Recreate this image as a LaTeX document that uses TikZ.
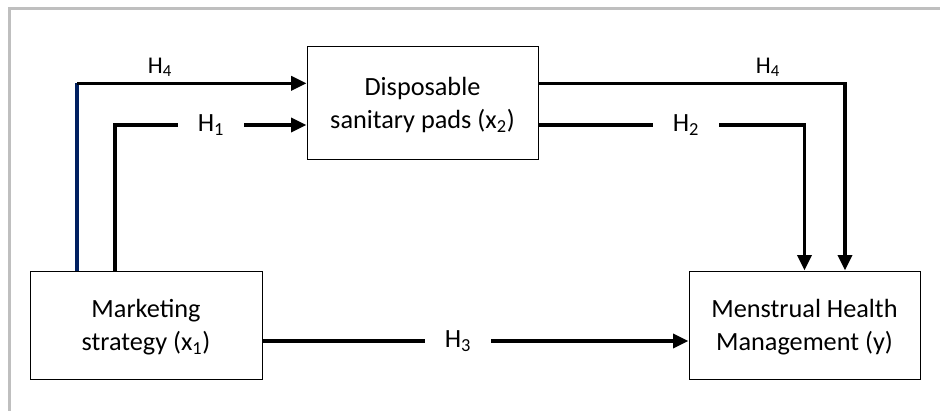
\documentclass[tikz,border=0pt]{standalone}
\usepackage{fontspec}
\setmainfont{Carlito}
\usetikzlibrary{arrows.meta}
\definecolor{frame}{RGB}{191,191,191}
\definecolor{navy}{RGB}{0,32,96}
\tikzset{
  box/.style={draw, line width=0.75pt, align=center, text depth=-2pt, minimum width=231pt*0.75, font=\fontsize{19.7}{24.8}\selectfont},
  line/.style={line width=2.5pt},
  arr/.style={line width=2.5pt, -{Triangle[length=11.5pt,width=10.5pt]}},
  hyp/.style={inner xsep=15pt, inner ysep=0pt, font=\fontsize{19.7}{24}\selectfont},
  hypsmall/.style={inner sep=0pt, anchor=base, font=\fontsize{18}{22}\selectfont}
}

\begin{document}
\begin{tikzpicture}[x=0.75pt,y=-0.75pt]
\useasboundingbox (0,0) rectangle (940,411);
%draw frame:
\draw [frame, line width=2.6pt] (9.3,411) -- (9.3,8.7) -- (940,8.7);
%draw boxes:
\node [box, minimum height=113*0.75pt] (dsp) at (422.5,102.5) {Disposable\\sanitary pads (x\textsubscript{2})};
\node [box, minimum height=108*0.75pt, minimum width=232*0.75pt] (mkt) at (146,325) {Marketing\\strategy (x\textsubscript{1})};
\node [box, minimum height=108*0.75pt] (mhm) at (804.5,325) {Menstrual Health\\Management (y)};
%draw labels:
\node [hyp] (h1) at (211,125) {H\textsubscript{1}};
\node [hyp] (h2) at (686,125) {H\textsubscript{2}};
\node [hyp] (h3) at (458,341) {H\textsubscript{3}};
\node [hypsmall] (h4a) at (160,73.5) {H\textsubscript{4}};
\node [hypsmall] (h4b) at (768,73.5) {H\textsubscript{4}};
\coordinate (c4) at (77,83.3);
\coordinate (c1) at (115,125);
\coordinate (r4) at (845,83.3);
\coordinate (c3) at (0,341);
%draw arrows:
\draw [line, navy] (c4 |- mkt.north) -- (c4);
\draw [arr] (c4) -- (c4 -| dsp.west);
\draw [line] (c1 |- mkt.north) |- (h1.west);
\draw [arr] (h1.east) -- (h1.east -| dsp.west);
\draw [line] (c1 -| dsp.east) -- (h2.west);
\draw [arr] (h2.east) -| (mhm.north);
\draw [arr] (r4 -| dsp.east) -| (r4 |- mhm.north);
\draw [line] (c3 -| mkt.east) -- (h3.west);
\draw [arr] (h3.east) -- (h3.east -| mhm.west);
\end{tikzpicture}
\end{document}
